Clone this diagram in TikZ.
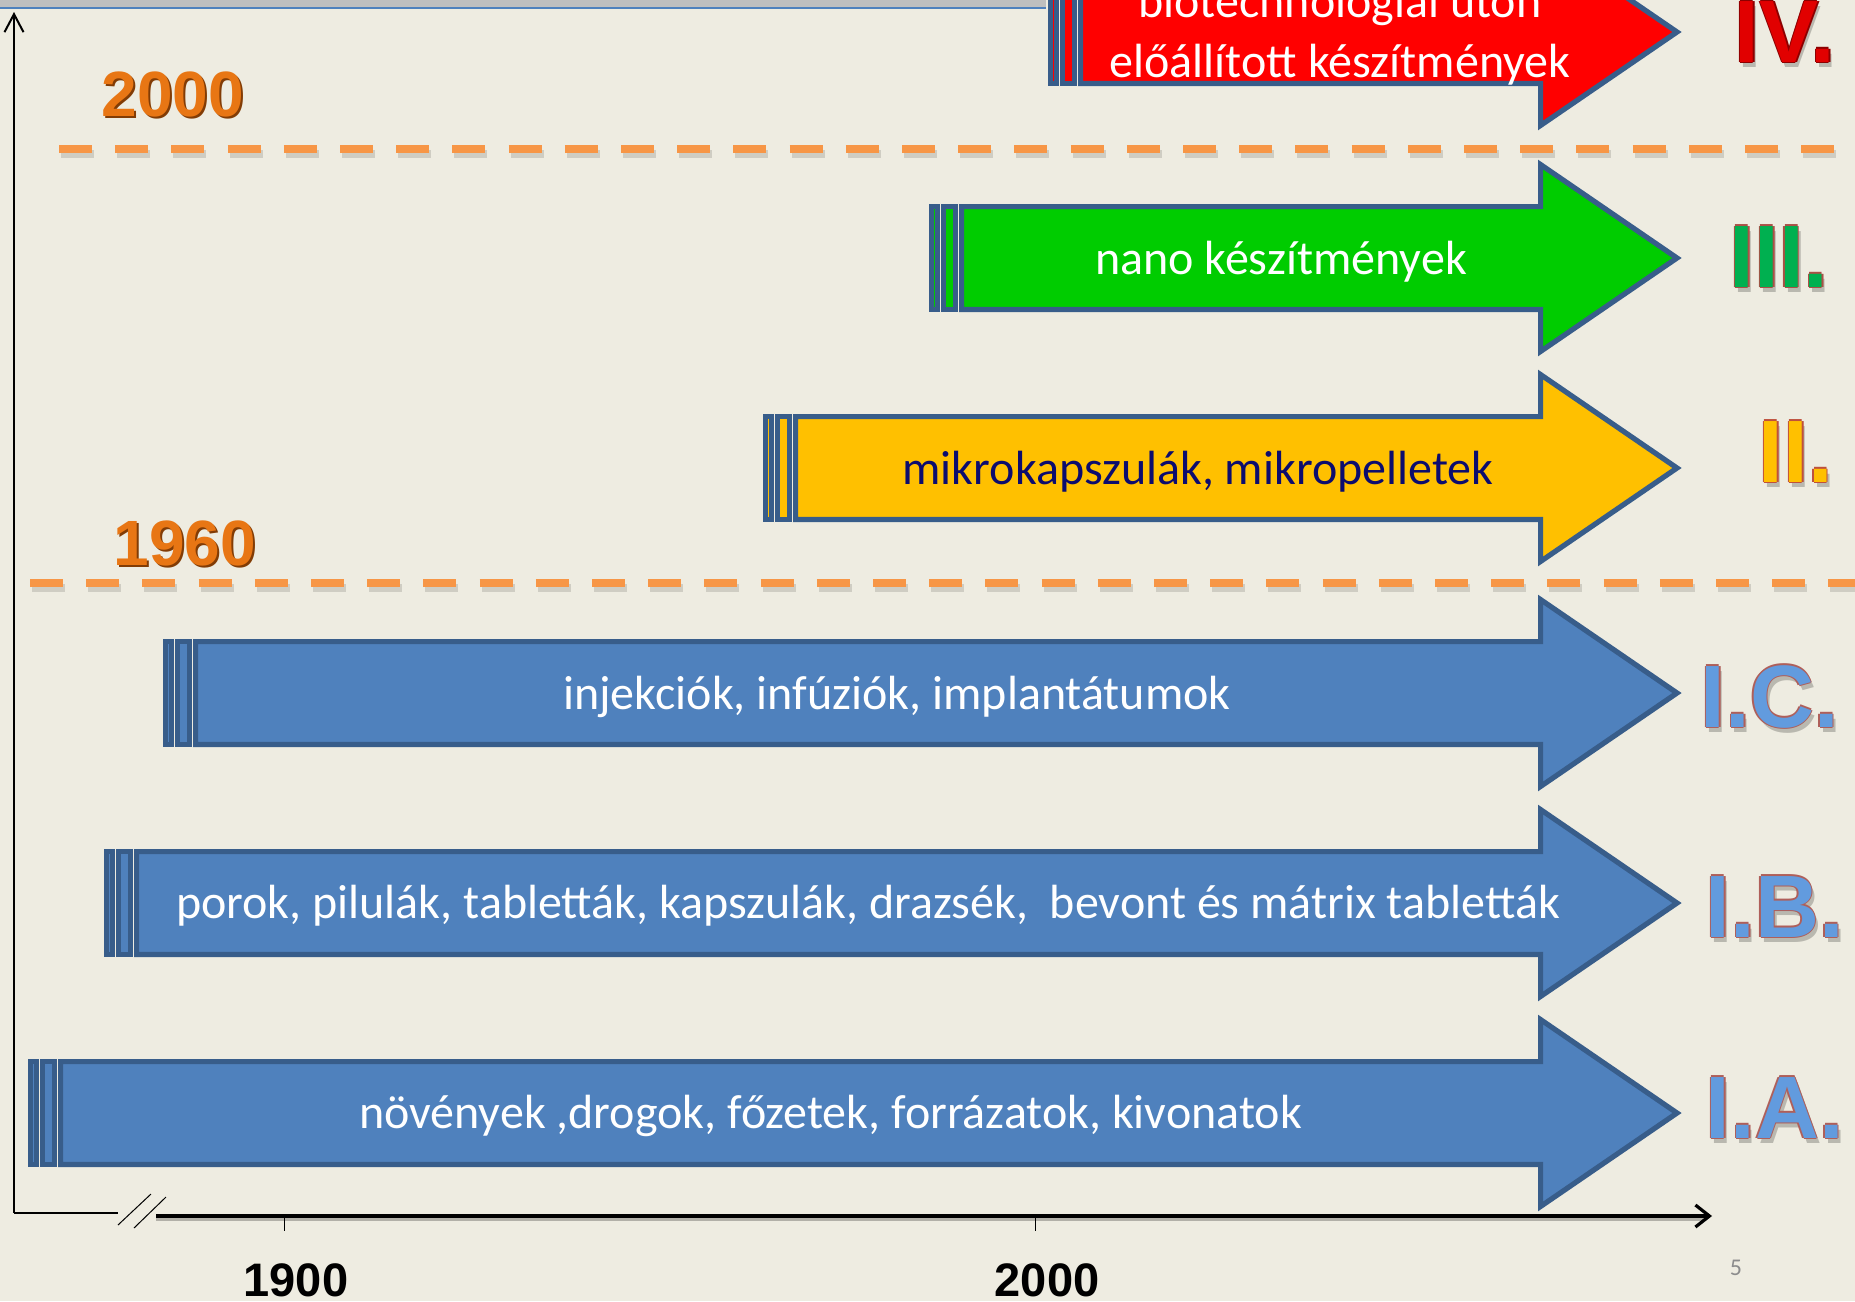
\documentclass[tikz,border=0pt]{standalone}
\usepackage{fontspec}
\setmainfont{Carlito}
\newfontfamily\headfont{Liberation Sans}
\usetikzlibrary{arrows.meta}
\definecolor{bg}{RGB}{238,236,225}
\definecolor{bandgray}{RGB}{191,191,191}
\definecolor{bandblue}{RGB}{79,129,189}
\definecolor{shapeline}{RGB}{56,93,138}
\definecolor{blueFill}{RGB}{79,129,189}
\definecolor{greenFill}{RGB}{0,204,0}
\definecolor{yellowFill}{RGB}{255,192,0}
\definecolor{redFill}{RGB}{255,0,0}
\definecolor{dashOrange}{RGB}{247,150,70}
\definecolor{yearOrange}{RGB}{232,118,20}
\definecolor{yearShadow}{RGB}{130,60,5}
\definecolor{navyText}{RGB}{12,12,110}
\definecolor{romBlue}{RGB}{98,155,222}
\definecolor{romBlueLine}{RGB}{175,95,90}
\definecolor{romGreen}{RGB}{0,176,80}
\definecolor{romGreenLine}{RGB}{170,80,70}
\definecolor{romYellow}{RGB}{255,192,0}
\definecolor{romYellowLine}{RGB}{190,80,60}
\definecolor{romRed}{RGB}{225,0,0}
\definecolor{romRedLine}{RGB}{140,0,0}
\definecolor{pageGray}{RGB}{140,140,140}

% #1 name, #2 tail x, #3 centre y, #4 fill colour
\newcommand\stripedarrow[4]{%
\begin{scope}[shift={(0,#3)}]
 \pgfmathsetmacro\sArA{#2+2.6}\pgfmathsetmacro\sArB{#2+8.4}%
 \pgfmathsetmacro\sArC{#2+14.6}\pgfmathsetmacro\sArD{#2+26.4}%
 \pgfmathsetmacro\sArE{#2+32.6}%
 \draw[arrowline,fill=#4] (\sArA,-51.4) rectangle (\sArB,51.4);
 \draw[arrowline,fill=#4] (\sArC,-51.4) rectangle (\sArD,51.4);
 \draw[arrowline,fill=#4] (\sArE,-51.4) -- (1540.6,-51.4) -- (1540.6,-93.4)
   -- (1677,0) -- (1540.6,93.4) -- (1540.6,51.4) -- (\sArE,51.4) -- cycle;
 \coordinate (#1) at (1677,0);
\end{scope}}

% #1 name, #2 x, #3 baseline y, #4 fill, #5 outline, #6 text
\newcommand\romlabel[6]{%
 \node[romanstyle,text=black,opacity=0.22] (#1s) at ({#2+3},{#3+5}) {#6};
 \foreach \ox/\oy [count=\k] in {-1.5/0,1.5/0,0/-1.5,0/1.5}
   \node[romanstyle,text=#5] (#1o\k) at ({#2+\ox},{#3+\oy}) {#6};
 \node[romanstyle,text=#4] (#1) at (#2,#3) {#6};
}

\begin{document}
\begin{tikzpicture}[x=0.5pt,y=-0.5pt,
 arrowline/.style={draw=shapeline,line width=2.6pt,line join=miter},
 arrowtext/.style={font=\fontsize{24pt}{29.5pt}\selectfont,text=white,inner sep=0pt},
 romanstyle/.style={font=\headfont\bfseries\fontsize{44.3pt}{50pt}\selectfont,inner sep=0pt,anchor=base west},
 yearstyle/.style={font=\headfont\bfseries\fontsize{32pt}{36pt}\selectfont,inner sep=0pt},
 axisyear/.style={font=\headfont\bfseries\fontsize{23.5pt}{28pt}\selectfont,inner sep=0pt},
 dashline/.style={draw=dashOrange,line width=4pt,dash pattern=on 16.5pt off 11.6pt},
 dashshadow/.style={draw=black,opacity=0.13,line width=4pt,dash pattern=on 16.5pt off 11.6pt},
 axisline/.style={draw=black,line width=1pt},
]
\useasboundingbox (0,0) rectangle (1855,1301);
\clip (0,0) rectangle (1855,1301);
\fill[bg] (0,0) rectangle (1855,1301);

% top band
\fill[bandgray] (0,-2) rectangle (1046,7);
\draw[bandblue,line width=1pt] (0,8) -- (1046,8);

% dashed era lines
\coordinate (d1a) at (59,149); \coordinate (d1b) at (1855,149);
\coordinate (d2a) at (30,583); \coordinate (d2b) at (1855,583);
\draw[dashshadow] ([shift={(2,5)}]d1a) -- ([shift={(2,5)}]d1b);
\draw[dashline] (d1a) -- (d1b);
\draw[dashshadow] ([shift={(2,5)}]d2a) -- ([shift={(2,5)}]d2b);
\draw[dashline] (d2a) -- (d2b);

% year labels
\node[yearstyle,text=yearShadow] (y2000s) at (175,96) {2000};
\node[yearstyle,text=yearOrange] (y2000) at (173,94) {2000};
\node[yearstyle,text=yearShadow] (y1960s) at (187,545) {1960};
\node[yearstyle,text=yearOrange] (y1960) at (185,543) {1960};

% arrows
\stripedarrow{aIV}{1048}{32}{redFill}
\stripedarrow{aIII}{929}{258}{greenFill}
\stripedarrow{aII}{763}{468}{yellowFill}
\stripedarrow{aIC}{163}{693}{blueFill}
\stripedarrow{aIB}{104}{903}{blueFill}
\stripedarrow{aIA}{28}{1113}{blueFill}

% arrow texts
\node[arrowtext,anchor=base] (tIVa) at (1340,18) {biotechnológiai úton};
\node[arrowtext,anchor=base] (tIVb) at (1340,77) {előállított készítmények};
\node[arrowtext] (tIII) at (1281,262) {nano készítmények};
\node[arrowtext,text=navyText] (tII) at (1198,472) {mikrokapszulák, mikropelletek};
\node[arrowtext] (tIC) at (897,697) {injekciók, infúziók, implantátumok};
\node[arrowtext] (tIB) at (868,906) {porok, pilulák, tabletták, kapszulák, drazsék,\ \ bevont és mátrix tabletták};
\node[arrowtext] (tIA) at (830.5,1116) {növények ,drogok, főzetek, forrázatok, kivonatok};

% roman labels
\romlabel{rIV}{1734.5}{62}{romRed}{romRedLine}{IV.}
\romlabel{rIII}{1729.5}{287}{romGreen}{romGreenLine}{III.}
\romlabel{rII}{1758.5}{482}{romYellow}{romYellowLine}{II.}
\romlabel{rIC}{1700.5}{727}{romBlue}{romBlueLine}{I.C.}
\romlabel{rIB}{1705.5}{937}{romBlue}{romBlueLine}{I.B.}
\romlabel{rIA}{1705.5}{1138}{romBlue}{romBlueLine}{I.A.}

% axes
\coordinate (yBottom) at (14,1212.5);
\coordinate (yTop) at (14,12);
\coordinate (xLeft) at (118,1212.5);
\draw[axisline,-{Straight Barb[length=9pt,width=9.5pt]}] (yBottom) -- (yTop);
\draw[axisline] (yBottom) -- (xLeft);
\draw[line width=0.5pt] (118,1225) -- (151,1194);
\draw[line width=0.5pt] (134,1228) -- (166,1197);
\coordinate (xStart) at (156,1216);
\coordinate (xEnd) at (1712,1216);
\draw[draw=black,opacity=0.25,line width=1.6pt] ([shift={(0,3)}]xStart) -- ([shift={(-8,3)}]xEnd);
\draw[line width=1.6pt,-{Straight Barb[length=7pt,width=11pt]}] (xStart) -- (xEnd);
\draw[line width=0.5pt] (284,1216) -- (284,1231);
\draw[line width=0.5pt] (1035,1216) -- (1035,1231);
\node[axisyear] (l1900) at (296,1280) {1900};
\node[axisyear] (l2000) at (1047,1280) {2000};
\node[font=\fontsize{12pt}{14pt}\selectfont,text=pageGray,inner sep=0pt] (pnum) at (1736,1268) {5};
\end{tikzpicture}
\end{document}
